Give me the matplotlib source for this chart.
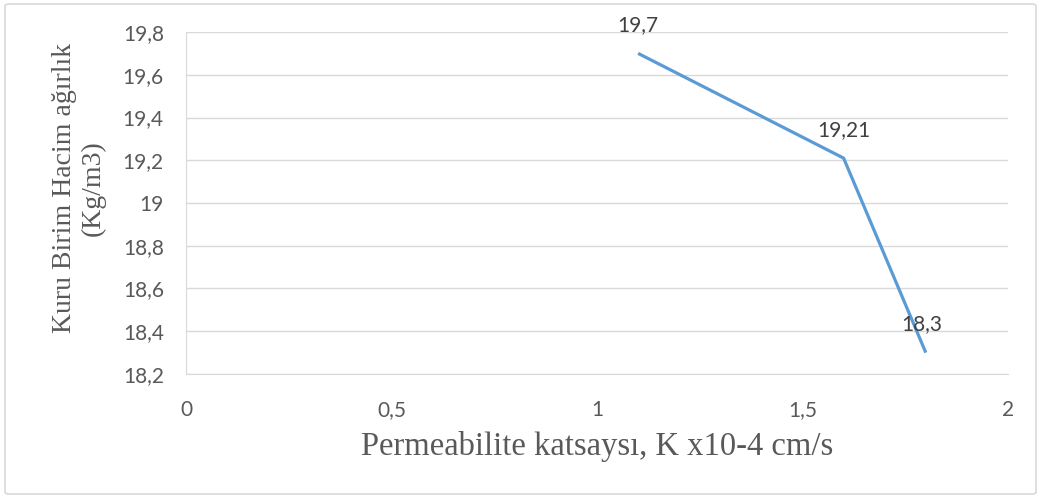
import matplotlib
matplotlib.use("Agg")
import matplotlib.pyplot as plt
from matplotlib.patches import FancyBboxPatch
from matplotlib.ticker import FuncFormatter

x_vals = [1.1, 1.6, 1.8]
y_vals = [19.7, 19.21, 18.3]
labels = ["19,7", "19,21", "18,3"]
label_dx = [0, 0, -3]
x_ticks = [0, 0.5, 1, 1.5, 2]
y_ticks = [18.2, 18.4, 18.6, 18.8, 19.0, 19.2, 19.4, 19.6, 19.8]

W, H = 1041, 497
fig = plt.figure(figsize=(W / 100, H / 100), dpi=100)
fig.patches.append(FancyBboxPatch((5 / W, 3 / H), 1031 / W, 490 / H,
                                  boxstyle="round,pad=0,rounding_size=0.004",
                                  transform=fig.transFigure, fill=False,
                                  edgecolor="#d9d9d9", linewidth=1.2))

ax = fig.add_axes([186 / W, 1 - 374 / H, (1008 - 186) / W, (374 - 32) / H])
ax.plot(x_vals, y_vals, color="#5b9bd5", linewidth=2.3, solid_capstyle="butt")
for xv, yv, lab, dx in zip(x_vals, y_vals, labels, label_dx):
    ax.annotate(lab, (xv, yv), xytext=(dx, 20.5), textcoords="offset points",
                ha="center", va="center", fontsize=15, color="#404040",
                family=["Lato", "DejaVu Sans"])

ax.set_xlim(0, 2)
ax.set_ylim(18.2, 19.8)
ax.set_xticks(x_ticks)
ax.set_yticks(y_ticks)
fmt = FuncFormatter(lambda v, p: ("%g" % round(v, 2)).replace(".", ","))
ax.xaxis.set_major_formatter(fmt)
ax.yaxis.set_major_formatter(fmt)
ax.grid(axis="y", color="#d9d9d9", linewidth=1)
ax.set_axisbelow(True)
for s in ["top", "right"]:
    ax.spines[s].set_visible(False)
ax.spines["left"].set_color("#d9d9d9")
ax.spines["bottom"].set_color("#d9d9d9")
ax.tick_params(length=0, labelsize=15, labelcolor="#595959")
ax.tick_params(axis="x", pad=19)
ax.tick_params(axis="y", pad=16)
for t in ax.get_xticklabels() + ax.get_yticklabels():
    t.set_family(["Lato", "DejaVu Sans"])

fig.text(597 / W, 1 - 455 / H, "Permeabilite katsaysı, K x10-4 cm/s",
         family="Liberation Serif", fontsize=23.5, color="#595959",
         ha="center", va="baseline")
fig.text(79 / W, 1 - 188 / H, "Kuru Birim Hacim ağırlık\n(Kg/m3)",
         family="Liberation Serif", fontsize=20, color="#595959",
         ha="center", va="center", rotation=90, multialignment="center",
         linespacing=1.15)

fig.savefig("out.png", dpi=100)
